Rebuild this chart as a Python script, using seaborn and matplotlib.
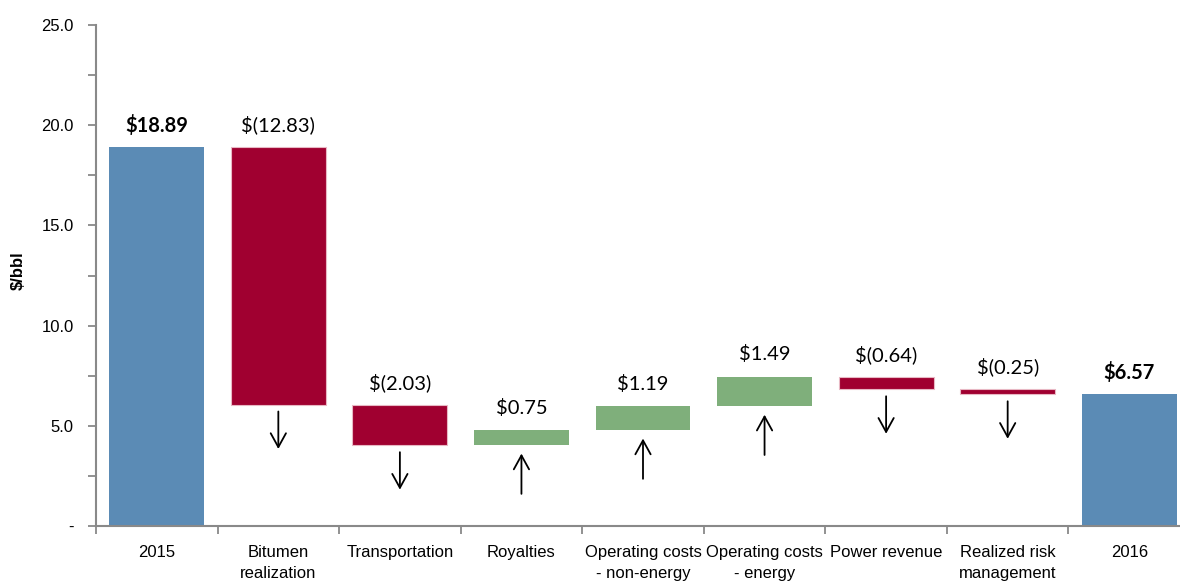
import numpy as np
import pandas as pd
import matplotlib
matplotlib.use("Agg")
import matplotlib.pyplot as plt
import matplotlib.transforms as mtransforms
import seaborn as sns

categories = ["2015", "Bitumen\nrealization", "Transportation", "Royalties",
              "Operating costs\n- non-energy", "Operating costs\n- energy",
              "Power revenue", "Realized risk\nmanagement", "2016"]
start_value = 18.89
changes = [-12.83, -2.03, 0.75, 1.19, 1.49, -0.64, -0.25]
end_value = 6.57
labels = ["$18.89", "$(12.83)", "$(2.03)", "$0.75", "$1.19", "$1.49",
          "$(0.64)", "$(0.25)", "$6.57"]
y_ticks = [0, 5, 10, 15, 20, 25]
y_tick_labels = ["-", "5.0", "10.0", "15.0", "20.0", "25.0"]

BLUE = "#5B8BB5"
RED = "#A00030"
GREEN = "#7FAF7B"

# waterfall geometry
bottoms, heights, kinds = [0.0], [start_value], ["total"]
level = start_value
for c in changes:
    new = level + c
    bottoms.append(min(level, new))
    heights.append(abs(c))
    kinds.append("up" if c > 0 else "down")
    level = new
bottoms.append(0.0)
heights.append(end_value)
kinds.append("total")
df = pd.DataFrame({"cat": categories, "height": heights, "bottom": bottoms, "kind": kinds})

sns.set_style("white")
plt.rcParams["font.family"] = ["Liberation Sans Narrow", "Liberation Sans", "DejaVu Sans"]
plt.rcParams["text.color"] = "black"
plt.rcParams["xtick.color"] = "#898989"
plt.rcParams["ytick.color"] = "#898989"
plt.rcParams["xtick.labelcolor"] = "black"
plt.rcParams["ytick.labelcolor"] = "black"
plt.rcParams["axes.labelcolor"] = "black"

fig = plt.figure(figsize=(11.8, 5.84), dpi=100)
ax = fig.add_axes([96 / 1180, 1 - 526 / 584, (1190 - 96) / 1180, (526 - 25) / 584])

sns.barplot(data=df, x="cat", y="height", bottom=df["bottom"].values, color=BLUE,
            width=0.78, ax=ax, saturation=1, linewidth=0)

colmap = {"total": BLUE, "up": GREEN, "down": RED}
for patch, k in zip(ax.patches, df["kind"]):
    patch.set_facecolor(colmap[k])
    if k == "down":
        patch.set_edgecolor("#E8B8C4")
        patch.set_linewidth(0.8)

ax.set_xlim(-0.5, len(categories) - 0.5)
ax.set_ylim(0, 25)
ax.set_yticks(y_ticks)
ax.set_yticklabels(y_tick_labels)
ax.set_yticks(np.arange(0, 25.1, 2.5), minor=True)
ax.set_xticks(range(len(categories)))
ax.set_xticklabels(categories, fontsize=12, linespacing=1.45)
ax.set_xticks(np.arange(-0.5, len(categories), 1.0), minor=True)
ax.tick_params(axis="x", which="major", bottom=False, length=0, pad=14)
ax.tick_params(axis="x", which="minor", bottom=True, length=6, width=1.3, direction="out")
ax.tick_params(axis="y", which="both", left=True, length=6, width=1.3, direction="out",
               labelsize=12, pad=10)
ax.set_xlabel("")
ax.set_ylabel("$/bbl", fontsize=12, fontweight="bold")
ax.yaxis.set_label_coords(-0.064, 0.51)

for s in ["top", "right"]:
    ax.spines[s].set_visible(False)
for s in ["left", "bottom"]:
    ax.spines[s].set_color("#898989")
    ax.spines[s].set_linewidth(1.5)

# value labels and arrows
for i, row in df.iterrows():
    top = row["bottom"] + row["height"]
    bold = row["kind"] == "total"
    ax.annotate(labels[i], (i, top), xytext=(0, 16), textcoords="offset points",
                ha="center", va="center", fontsize=14.5,
                fontweight="bold" if bold else "normal",
                family=["Lato", "DejaVu Sans"], color="black")
    if row["kind"] in ("down", "up"):
        b = row["bottom"]
        if row["kind"] == "down":
            tail, head = (0, -5), (0, -32)
        else:
            tail, head = (0, -35), (0, -6)
        p0 = mtransforms.offset_copy(ax.transData, fig=fig, x=tail[0], y=tail[1], units="points")
        p1 = mtransforms.offset_copy(ax.transData, fig=fig, x=head[0], y=head[1], units="points")
        ax.annotate("", xy=(i, b), xycoords=p1, xytext=(i, b), textcoords=p0,
                    arrowprops=dict(arrowstyle="->,head_length=1.0,head_width=0.55",
                                    color="black", lw=1.3, shrinkA=0, shrinkB=0))

fig.savefig("out.png", dpi=100)
